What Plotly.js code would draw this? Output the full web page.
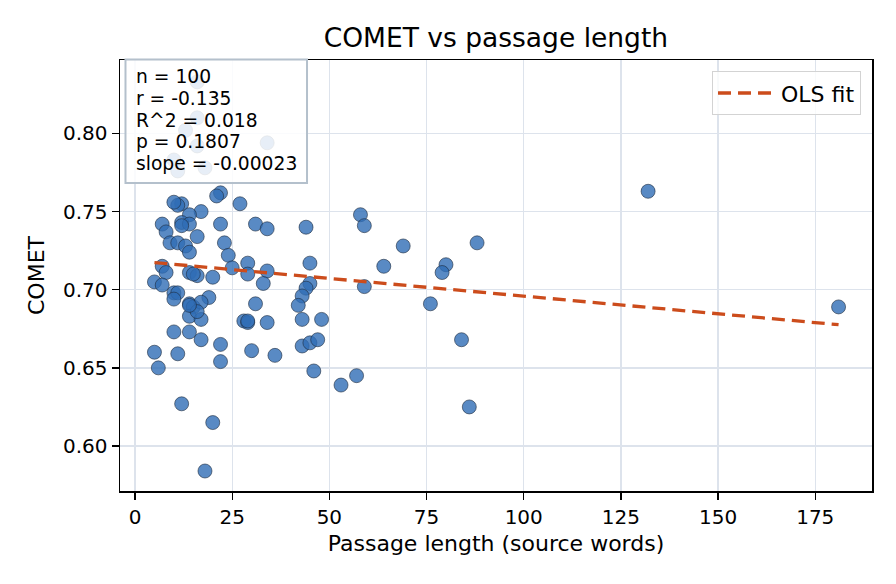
<!DOCTYPE html>
<html>
<head>
<meta charset="utf-8">
<script src="https://cdn.plot.ly/plotly-3.0.1.min.js"></script>
<style>
  html, body { margin: 0; padding: 0; background: #fff; }
  #chart { width: 896px; height: 584px; }
</style>
</head>
<body>
<div id="chart"></div>
<script>
// passage length (source words) and COMET score
var lengths = [16, 16, 13, 16, 34, 10, 11, 18, 22, 21,
  12, 11, 17, 14, 27, 7, 12, 14, 22, 31,
  34, 8, 16, 9, 11, 13, 14, 23, 24, 25,
  7, 8, 5, 7, 14, 16, 20, 29, 29, 34,
  33, 10, 11, 10, 19, 14, 15, 17, 31, 14,
  17, 10, 14, 17, 22, 5, 11, 22, 6, 28,
  29, 34, 30, 36, 12, 20, 18, 16, 44, 45,
  45, 44, 43, 42, 43, 48, 43, 45, 47, 46,
  58, 59, 64, 69, 59, 53, 57, 80, 79, 88,
  76, 84, 86, 132, 181, 12, 14, 10, 29, 15];
var comet = [0.833, 0.810, 0.802, 0.792, 0.794, 0.783, 0.776, 0.778, 0.762, 0.760,
  0.755, 0.754, 0.750, 0.748, 0.755, 0.742, 0.743, 0.742, 0.742, 0.742,
  0.739, 0.737, 0.734, 0.730, 0.730, 0.728, 0.724, 0.730, 0.722, 0.714,
  0.715, 0.711, 0.705, 0.703, 0.711, 0.709, 0.708, 0.717, 0.710, 0.712,
  0.704, 0.698, 0.698, 0.694, 0.695, 0.691, 0.689, 0.692, 0.691, 0.683,
  0.681, 0.673, 0.673, 0.668, 0.665, 0.660, 0.659, 0.654, 0.650, 0.680,
  0.679, 0.679, 0.661, 0.658, 0.627, 0.615, 0.584, 0.686, 0.740, 0.717,
  0.704, 0.701, 0.696, 0.690, 0.681, 0.681, 0.664, 0.666, 0.668, 0.648,
  0.748, 0.741, 0.715, 0.728, 0.702, 0.639, 0.645, 0.716, 0.711, 0.730,
  0.691, 0.668, 0.625, 0.763, 0.689, 0.741, 0.690, 0.756, 0.680, 0.710];

// OLS fit end points
var fitX = [5, 181];
var fitY = [0.7174, 0.6776];

var xTicks = [0, 25, 50, 75, 100, 125, 150, 175];
var yTicks = [0.60, 0.65, 0.70, 0.75, 0.80];

var stats = ['n = 100', 'r = -0.135', 'R^2 = 0.018', 'p = 0.1807', 'slope = -0.00023'];

var font = 'DejaVu Sans, sans-serif';

var points = {
  x: lengths,
  y: comet,
  mode: 'markers',
  type: 'scatter',
  showlegend: false,
  marker: {
    size: 14,
    color: 'rgba(47,109,181,0.8)',
    line: { color: '#1c2a3c', width: 0.6 }
  },
  hoverinfo: 'x+y'
};

var fit = {
  x: fitX,
  y: fitY,
  mode: 'lines',
  type: 'scatter',
  name: 'OLS fit',
  line: { color: '#cc4c1c', width: 3.3, dash: '13px,7px' }
};

// stats box: one line per annotation so the spacing matches
var statNotes = stats.map(function (s, i) {
  return {
    xref: 'paper', yref: 'paper',
    x: 0.018, xanchor: 'left',
    y: 0.961 - i * 0.0502, yanchor: 'middle',
    showarrow: false,
    text: s,
    font: { size: 18.7, color: '#000' }
  };
});

var layout = {
  width: 896,
  height: 584,
  margin: { l: 120, r: 24, t: 60, b: 93 },
  paper_bgcolor: '#fff',
  plot_bgcolor: '#fff',
  font: { family: font, color: '#000', size: 20 },
  title: {
    text: 'COMET vs passage length',
    font: { size: 26.5 },
    x: 0.5535, xanchor: 'center',
    y: 0.936, yanchor: 'middle'
  },
  xaxis: {
    range: [-3.86, 189.6],
    tickvals: xTicks,
    ticks: 'outside', ticklen: 7, tickwidth: 1.3, tickcolor: '#000',
    showline: true, mirror: true, linecolor: '#000', linewidth: 1.5,
    showgrid: true, gridcolor: '#dde3ec', gridwidth: 1.3,
    zeroline: false,
    tickfont: { size: 20 },
    title: { text: 'Passage length (source words)', font: { size: 22 }, standoff: 8 }
  },
  yaxis: {
    range: [0.5712, 0.847],
    tickvals: yTicks,
    tickformat: '.2f',
    ticks: 'outside', ticklen: 7, tickwidth: 1.3, tickcolor: '#000',
    showline: true, mirror: true, linecolor: '#000', linewidth: 1.5,
    showgrid: true, gridcolor: '#dde3ec', gridwidth: 1.3,
    zeroline: false,
    tickfont: { size: 20 },
    title: { text: 'COMET', font: { size: 22 }, standoff: 12 }
  },
  showlegend: true,
  legend: {
    x: 0.9854, xanchor: 'right',
    y: 0.974, yanchor: 'top',
    bgcolor: 'rgba(255,255,255,0.8)',
    bordercolor: '#d3d3d3', borderwidth: 1,
    itemwidth: 58,
    font: { size: 22 }
  },
  shapes: [{
    type: 'rect', xref: 'paper', yref: 'paper', layer: 'above',
    x0: 0.0073, x1: 0.2487, y0: 0.7146, y1: 1.0012,
    fillcolor: 'rgba(255,255,255,0.86)',
    line: { color: '#b4c0cc', width: 2 }
  }],
  annotations: statNotes
};

Plotly.newPlot('chart', [points, fit], layout, { displayModeBar: false, staticPlot: true });
</script>
</body>
</html>
